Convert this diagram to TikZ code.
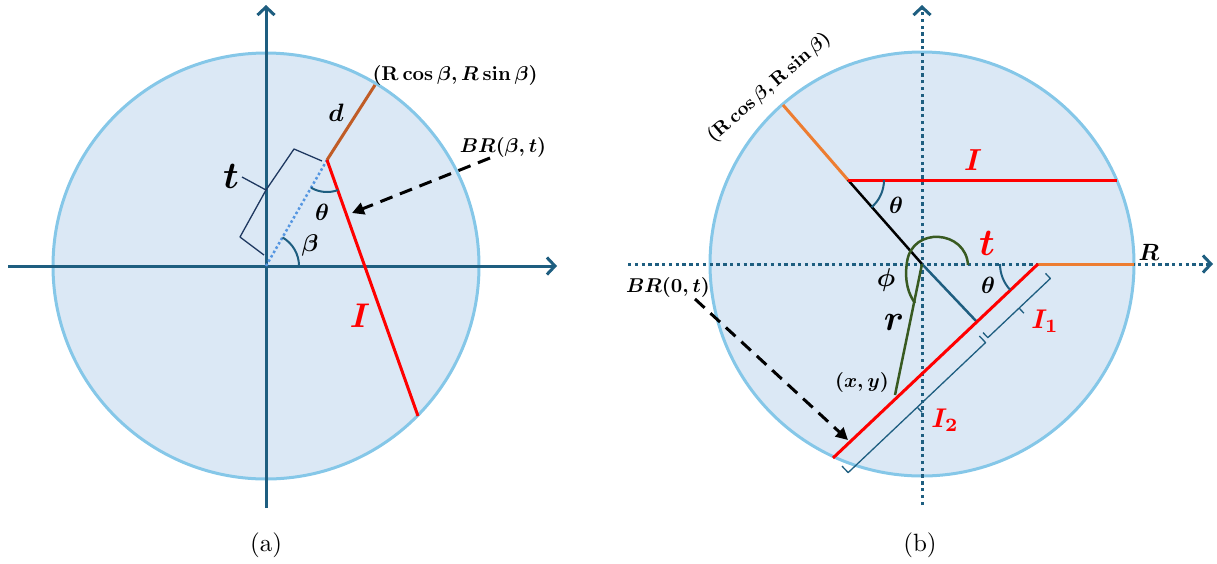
\documentclass[tikz,border=0pt]{standalone}
\usepackage{amsmath}
\usetikzlibrary{arrows.meta,calc}
\definecolor{fillc}{RGB}{219,232,245}
\definecolor{circc}{RGB}{133,199,232}
\definecolor{axc}{RGB}{30,94,128}
\definecolor{brc}{RGB}{192,92,38}
\definecolor{orc}{RGB}{237,125,49}
\definecolor{grc}{RGB}{56,90,33}
\definecolor{navy}{RGB}{30,56,96}
\definecolor{dotc}{RGB}{85,150,225}
\tikzset{
  circ/.style={draw=circc,fill=fillc,line width=3pt},
  axis/.style={draw=axc,line width=3pt,-{Straight Barb[length=8pt,width=17pt]}},
  daxis/.style={axis,dash pattern=on 3.4pt off 3.4pt},
  redl/.style={draw=red,line width=3pt},
  arcst/.style={draw=axc,line width=2pt},
  dasharr/.style={draw=black,line width=3pt,dash pattern=on 13pt off 8pt,-{Triangle[length=12pt,width=12pt]}},
  brk/.style={draw=axc,line width=1.3pt},
  lab/.style={inner sep=0pt,font=\normalsize\boldmath,scale=2.0},
  symlab/.style={inner sep=0pt,font=\normalsize\boldmath,scale=2.35},
  biglab/.style={inner sep=0pt,font=\normalsize\boldmath,scale=3.8},
  captxt/.style={inner sep=0pt,font=\normalsize,scale=2.5},
}
\begin{document}
\begin{tikzpicture}[x=1pt,y=-1pt]
\useasboundingbox (0,0) rectangle (1217,563);
% ================= (a) =================
\coordinate (Oa) at (266,266);
\draw[circ] (Oa) circle (213pt);
\coordinate (axL) at (8,266);
\coordinate (axR) at (557,266);
\coordinate (axB) at (266,508);
\coordinate (axT) at (266,5);
\draw[axis] (axL) -- (axR);
\draw[axis] (axB) -- (axT);
\coordinate (P) at (327,160);
\coordinate (Q) at (375,85);
\coordinate (E) at (418,416);
\draw[dotc,line width=2.5pt,dash pattern=on 2.5pt off 2.5pt] (Oa) -- (P);
\draw[brc,line width=3pt] (P) -- (Q);
\draw[redl] (P) -- (E);
\draw[arcst] ($(P)+(240:32pt)$) arc[start angle=240,end angle=290,radius=32pt];
\draw[arcst] ($(Oa)+(0:33pt)$) arc[start angle=0,end angle=60,radius=33pt];
% brace for t
\coordinate (be1) at (322,161);
\coordinate (bc1) at (294,149);
\coordinate (bm) at (266,190);
\coordinate (btip) at (242,177);
\coordinate (bc2) at (240,237);
\coordinate (be2) at (264,255);
\draw[navy,line width=1.3pt,line join=round] (be1) -- (bc1) -- (bm) -- (bc2) -- (be2);
\draw[navy,line width=1.3pt] (bm) -- (btip);
% dashed arrow
\coordinate (da1) at (490,158);
\coordinate (da2) at (352,213);
\draw[dasharr] (da1) -- (da2);
% labels
\node[lab] (la1) at (455,75) {$(\mathrm{R}\cos\beta,R\sin\beta)$};
\node[symlab,scale=1.07] (la2) at (336,113) {$d$};
\node[lab] (la3) at (503,147) {$BR(\beta,t)$};
\node[biglab] (la4) at (231,176) {$t$};
\node[symlab] (la5) at (322,212) {$\theta$};
\node[symlab,scale=1.03] (la6) at (310,245) {$\beta$};
\node[biglab,scale=0.9,text=red] (la7) at (360,316) {$I$};
\node[captxt] (capa) at (266,545) {(a)};
% ================= (b) =================
\coordinate (Ob) at (922,264);
\draw[circ] (Ob) circle (212pt);
\coordinate (bxL) at (628,264);
\coordinate (bxR) at (1213,264);
\coordinate (byB) at (922,505);
\coordinate (byT) at (922,5);
\draw[daxis] (bxL) -- (bxR);
\draw[daxis] (byB) -- (byT);
\coordinate (A) at (783,105);
\coordinate (B) at (848,180);
\coordinate (B2) at (1117,180);
\coordinate (C) at (1038,264);
\coordinate (C2) at (1134,264);
\coordinate (D) at (833,458);
\coordinate (F) at (977,322);
\coordinate (XY) at (895,395);
\draw[orc,line width=3pt] (A) -- (B);
\draw[orc,line width=3pt] (C) -- (C2);
\draw[black,line width=2.5pt] (B) -- (Ob);
\draw[axc,line width=2.5pt] (Ob) -- (F);
\draw[grc,line width=2.5pt] (968,265) .. controls (966,230) and (912,226) .. (907,262) .. controls (904,282) and (909,295) .. (915,303);
\draw[grc,line width=2.5pt] (Ob) -- (XY);
\draw[redl] (B) -- (B2);
\draw[redl] (C) -- (D);
\draw[arcst] ($(B)+(0:36pt)$) arc[start angle=0,end angle=-49,radius=36pt];
\draw[arcst] ($(C)+(180:38pt)$) arc[start angle=180,end angle=223,radius=38pt];
% brackets I1, I2 (along the red line, offset towards lower right)
\begin{scope}[shift={(C)},x={(-0.727pt,-0.688pt)},y={(0.688pt,-0.727pt)}]
  \draw[brk,line join=round] (1,12) -- (1,19) -- (87,19) -- (87,12);
  \draw[brk] (44,19) -- (44,26);
  \draw[brk,line join=round] (92,12) -- (92,21) -- (281,21) -- (281,12);
  \draw[brk] (186,21) -- (186,28);
\end{scope}
% dashed arrow
\coordinate (db1) at (695,299);
\coordinate (db2) at (848,440);
\draw[dasharr] (db1) -- (db2);
% labels
\node[lab,scale=0.95,rotate=41] (lb1) at (769,88) {$(\mathrm{R}\cos\beta,\mathrm{R}\sin\beta)$};
\node[biglab,scale=0.8,text=red] (lb2) at (973,160) {$I$};
\node[symlab] (lb3) at (896,205) {$\theta$};
\node[biglab,text=red] (lb4) at (987,243) {$t$};
\node[symlab] (lb5) at (1149,252) {$R$};
\node[symlab,scale=1.1] (lb6) at (886,280) {$\phi$};
\node[symlab] (lb7) at (988,285) {$\theta$};
\node[lab] (lb8) at (668,287) {$BR(0,t)$};
\node[biglab,scale=0.95] (lb9) at (894,322) {$r$};
\node[symlab,scale=1.15,text=red] (lb10) at (1045,321) {$I_1$};
\node[lab] (lb11) at (862,382) {$(x,y)$};
\node[symlab,scale=1.15,text=red] (lb12) at (945,420) {$I_2$};
\node[captxt] (capb) at (920,545) {(b)};
\end{tikzpicture}
\end{document}
